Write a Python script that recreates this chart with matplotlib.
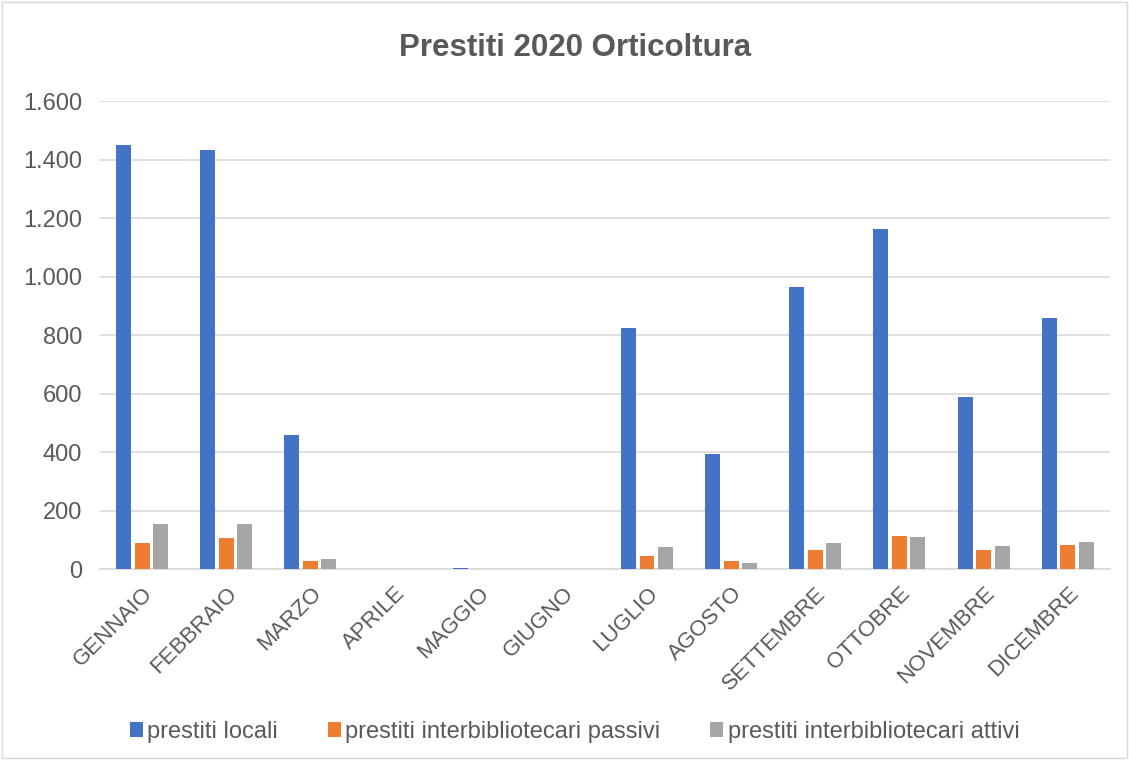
import numpy as np
import matplotlib
matplotlib.use("Agg")
import matplotlib.pyplot as plt
from matplotlib.ticker import FuncFormatter
from matplotlib.patches import Rectangle

plt.rcParams['font.family'] = ['Liberation Sans', 'DejaVu Sans']

mesi = ["GENNAIO", "FEBBRAIO", "MARZO", "APRILE", "MAGGIO", "GIUGNO",
        "LUGLIO", "AGOSTO", "SETTEMBRE", "OTTOBRE", "NOVEMBRE", "DICEMBRE"]
prestiti_locali = [1449, 1432, 458, 0, 4, 0, 823, 392, 963, 1162, 587, 857]
prestiti_passivi = [88, 105, 29, 0, 0, 0, 46, 29, 65, 113, 64, 81]
prestiti_attivi = [154, 154, 35, 0, 0, 0, 76, 21, 88, 108, 79, 92]

serie = [
    ("prestiti locali", prestiti_locali, "#4472C4"),
    ("prestiti interbibliotecari passivi", prestiti_passivi, "#ED7D31"),
    ("prestiti interbibliotecari attivi", prestiti_attivi, "#A5A5A5"),
]

fig = plt.figure(figsize=(11.29, 7.6), dpi=100)
ax = fig.add_axes([0.0886, 0.2513, 0.8944, 0.6158])

x = np.arange(len(mesi))
w = 0.178
step = 0.22
for i, (nome, vals, col) in enumerate(serie):
    ax.bar(x + (i - 1) * step, vals, width=w, color=col, label=nome, zorder=3)

ax.set_xlim(-0.5, len(mesi) - 0.5)
ax.set_ylim(0, 1600)
ax.set_yticks(range(0, 1601, 200))
ax.yaxis.set_major_formatter(FuncFormatter(lambda v, p: f"{int(v):,}".replace(",", ".")))
ax.grid(axis='y', color='#D9D9D9', linewidth=1.2, zorder=0)
for s in ['top', 'right', 'left']:
    ax.spines[s].set_visible(False)
ax.spines['bottom'].set_color('#D9D9D9')
ax.spines['bottom'].set_linewidth(1.2)
ax.tick_params(axis='both', length=0, labelsize=17, colors='#595959')
ax.tick_params(axis='y', pad=13)
ax.set_xticks(x)
ax.set_xticklabels(mesi, rotation=45, ha='right', rotation_mode='anchor')
ax.tick_params(axis='x', pad=10, labelsize=16)

fig.text(0.509, 0.937, "Prestiti 2020 Orticoltura", ha='center', va='center',
         fontsize=22.5, fontweight='bold', color='#595959')

leg = fig.legend(loc='center', bbox_to_anchor=(0.509, 0.037), ncol=3, frameon=False,
                 fontsize=17, handlelength=0.55, handleheight=0.55, handletextpad=0.2,
                 columnspacing=2.1)
for t in leg.get_texts():
    t.set_color('#595959')

fig.patches.append(Rectangle((0.002, 0.002), 0.996, 0.996, transform=fig.transFigure,
                             fill=False, edgecolor='#D9D9D9', linewidth=1))

fig.savefig("out.png", dpi=100)
